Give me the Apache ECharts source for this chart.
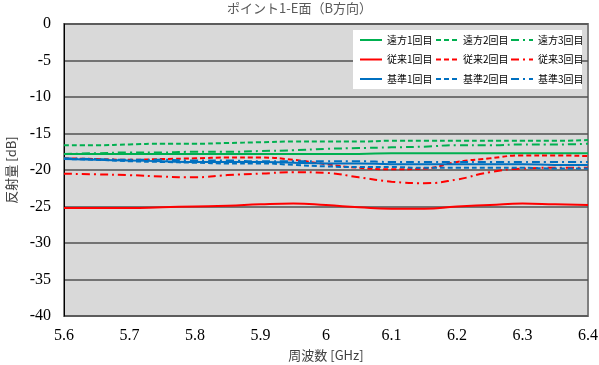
<!DOCTYPE html>
<html><head><meta charset="utf-8">
<script src="https://cdn.jsdelivr.net/npm/echarts@6/dist/echarts.min.js"></script>
<style>html,body{margin:0;padding:0;background:#fff}#c{width:599px;height:365px}</style>
</head><body><div id="c"></div>
<script>
const freq = [5.6,5.65,5.7,5.75,5.8,5.85,5.9,5.95,6.0,6.05,6.1,6.15,6.2,6.25,6.3,6.35,6.4];
const far1 = [-17.8,-17.8,-17.8,-17.8,-17.8,-17.8,-17.8,-17.8,-17.8,-17.8,-17.7,-17.7,-17.7,-17.7,-17.7,-17.7,-17.7];
const far2 = [-16.6,-16.6,-16.5,-16.4,-16.4,-16.3,-16.2,-16.1,-16.1,-16.1,-16.0,-16.0,-16.0,-16.0,-16.0,-16.0,-15.9];
const far3 = [-17.8,-17.7,-17.6,-17.6,-17.5,-17.5,-17.4,-17.3,-17.1,-17.0,-16.9,-16.8,-16.6,-16.6,-16.5,-16.5,-16.4];
const old1 = [-25.2,-25.2,-25.2,-25.1,-25.0,-24.9,-24.7,-24.6,-24.8,-25.1,-25.3,-25.3,-25.0,-24.8,-24.6,-24.7,-24.8];
const old2 = [-18.4,-18.5,-18.6,-18.5,-18.4,-18.3,-18.3,-18.6,-19.2,-19.7,-19.9,-19.8,-18.9,-18.4,-18.0,-18.0,-18.1];
const old3 = [-20.5,-20.6,-20.7,-20.9,-21.0,-20.7,-20.5,-20.3,-20.4,-21.0,-21.6,-21.8,-21.3,-20.3,-19.8,-19.7,-19.7];
const std1 = [-18.5,-18.6,-18.7,-18.8,-18.9,-18.9,-18.9,-19.0,-19.1,-19.1,-19.2,-19.2,-19.2,-19.2,-19.2,-19.3,-19.3];
const std2 = [-18.5,-18.6,-18.8,-18.9,-19.0,-19.1,-19.1,-19.3,-19.5,-19.6,-19.6,-19.7,-19.7,-19.7,-19.7,-19.8,-19.8];
const std3 = [-18.4,-18.5,-18.6,-18.6,-18.7,-18.7,-18.8,-18.8,-18.8,-18.8,-18.9,-18.9,-18.9,-18.9,-18.9,-18.9,-18.9];
const yTicks = [-40,-35,-30,-25,-20,-15,-10,-5,0];

const GREEN='#00b050', RED='#ff0000', BLUE='#0070c0';
const DASH=[5,3], DOT=[8,4,2,4];
const defs = [
  ['遠方1回目', far1, GREEN, 'solid'],
  ['遠方2回目', far2, GREEN, DASH],
  ['遠方3回目', far3, GREEN, DOT],
  ['従来1回目', old1, RED, 'solid'],
  ['従来2回目', old2, RED, DASH],
  ['従来3回目', old3, RED, DOT],
  ['基準1回目', std1, BLUE, 'solid'],
  ['基準2回目', std2, BLUE, DASH],
  ['基準3回目', std3, BLUE, DOT]
];
const series = defs.map(d => ({
  name: d[0], type: 'line', smooth: true, symbol: 'none',
  data: freq.map((f,i)=>[f, d[1][i]]),
  lineStyle: {color: d[2], width: 2, type: d[3]},
  itemStyle: {color: d[2]}
}));
const legFont = {fontFamily:'Noto Sans CJK JP', fontSize:10, color:'#000'};
const legCols = [359, 435, 510].map((x,c)=>({
  orient:'vertical', left:x, top:35, padding:0, itemWidth:22, itemHeight:10, itemGap:9.5,
  textStyle:legFont, z:10, itemStyle:{opacity:0}, lineStyle:{inherit:true},
  data:[defs[c][0], defs[c+3][0], defs[c+6][0]]
}));
const chart = echarts.init(document.getElementById('c'), null, {renderer:'canvas'});
chart.setOption({
  animation:false,
  backgroundColor:'#fff',
  title:{text:'ポイント1-E面（B方向）', left:'center', top:-3,
    textStyle:{fontFamily:'Noto Sans CJK JP', fontSize:13, fontWeight:'normal', color:'#595959'}},
  grid:{left:64, right:11, top:24, bottom:49, containLabel:false, outerBoundsMode:'none',
    show:true, backgroundColor:'#d9d9d9', borderColor:'#808080', borderWidth:2},
  graphic:[{type:'rect', shape:{x:353, y:30, width:229, height:59}, style:{fill:'#fff'}, z:5}],
  legend: legCols,
  xAxis:{type:'value', min:5.6, max:6.4, interval:0.1,
    name:'周波数 [GHz]', nameLocation:'middle', nameGap:33,
    nameTextStyle:{fontFamily:'Noto Sans CJK JP', fontSize:13, color:'#404040'},
    axisLine:{show:false}, axisTick:{show:false}, splitLine:{show:false},
    axisLabel:{margin:12, fontFamily:'Liberation Serif', fontSize:16, color:'#000',
      formatter: v => String(+(+v).toFixed(1))}},
  yAxis:{type:'value', min:-40, max:0, interval:5,
    name:'反射量 [dB]', nameLocation:'middle', nameGap:46,
    nameTextStyle:{fontFamily:'Noto Sans CJK JP', fontSize:13, color:'#404040'},
    axisLine:{show:true, lineStyle:{color:'#000', width:1}}, axisTick:{show:false},
    splitLine:{show:true, lineStyle:{color:'#505050', width:1.5}},
    axisLabel:{margin:13, fontFamily:'Liberation Serif', fontSize:16, color:'#000',
      formatter: v => yTicks.includes(v) ? String(v) : ''}},
  series: series
});
</script></body></html>
